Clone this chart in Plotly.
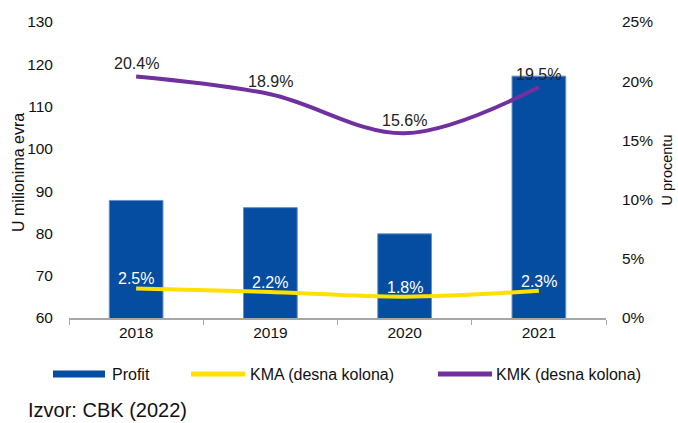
import plotly.graph_objects as go

years = ["2018", "2019", "2020", "2021"]
profit = [87.8, 86.1, 79.9, 117.2]
kma = [2.5, 2.2, 1.8, 2.3]
kmk = [20.4, 18.9, 15.6, 19.5]

FONT = "Liberation Sans, Arial, sans-serif"
BLUE = "#054DA1"
YELLOW = "#FFE000"
PURPLE = "#7030A0"

fig = go.Figure()
fig.add_trace(go.Bar(x=years, y=profit, name="Profit", marker_color=BLUE,
                     marker_line=dict(color="#6b8fc4", width=1), width=0.4))
fig.add_trace(go.Scatter(x=years, y=kma, name="KMA (desna kolona)", yaxis="y2",
                         mode="lines", line=dict(color=YELLOW, width=4, shape="spline")))
fig.add_trace(go.Scatter(x=years, y=kmk, name="KMK (desna kolona)", yaxis="y2",
                         mode="lines", line=dict(color=PURPLE, width=4, shape="spline")))

# data labels (x given as category index)
for i, v in enumerate(kma):
  fig.add_annotation(x=i, y=v, xref="x", yref="y2", text=f"{v}%", showarrow=False,
                     yanchor="bottom", yshift=-1, font=dict(color="white", size=16))
for i, v in enumerate(kmk):
  fig.add_annotation(x=i, y=v, xref="x", yref="y2", text=f"{v}%", showarrow=False,
                     yanchor="bottom", yshift=2, font=dict(color="#222222", size=16))

fig.update_layout(
  width=678, height=423,
  margin=dict(l=69, r=72, t=22, b=105, autoexpand=False),
  plot_bgcolor="white", paper_bgcolor="white",
  font=dict(family=FONT, size=15.5, color="#111111"),
  showlegend=False,
  xaxis=dict(type="category", range=[-0.5, 3.5], showline=True, linecolor="#A6A6A6",
             linewidth=1.5, ticks="outside", tickson="boundaries", ticklen=5,
             tickcolor="#A6A6A6", showgrid=False, automargin=False,
             tickfont=dict(size=15.5)),
  yaxis=dict(range=[60, 130], dtick=10, showgrid=False, zeroline=False, automargin=False,
             ticklabelstandoff=15, tickfont=dict(size=15.5)),
  yaxis2=dict(range=[0, 25], overlaying="y", side="right", automargin=False,
              tickvals=[0, 5, 10, 15, 20, 25],
              ticktext=["0%", "5%", "10%", "15%", "20%", "25%"],
              showgrid=False, zeroline=False, ticklabelstandoff=15,
              tickfont=dict(size=15.5),
              title=dict(text="U procentu", standoff=9, font=dict(size=14.5))),
  bargap=0.6,
)

# left axis title placed as annotation (sits tight against the tick labels)
fig.add_annotation(text="U milionima evra", xref="paper", yref="paper", x=-0.0931, y=0.49,
                   textangle=-90, xanchor="center", yanchor="middle", showarrow=False,
                   font=dict(size=16))

# legend drawn by hand to mimic the wide keys
ly = -0.1892
fig.add_shape(type="rect", xref="paper", yref="paper", x0=-0.0298, x1=0.067,
              y0=ly - 0.0118, y1=ly + 0.0118, fillcolor=BLUE, line_width=0)
fig.add_shape(type="line", xref="paper", yref="paper", x0=0.2272, x1=0.3277,
              y0=ly, y1=ly, line=dict(color=YELLOW, width=5))
fig.add_shape(type="line", xref="paper", yref="paper", x0=0.6872, x1=0.7877,
              y0=ly, y1=ly, line=dict(color=PURPLE, width=5))
for x, t in [(0.0764, "Profit"), (0.3333, "KMA (desna kolona)"), (0.7914, "KMK (desna kolona)")]:
  fig.add_annotation(text=t, xref="paper", yref="paper", x=x, y=ly, xanchor="left",
                     yanchor="middle", showarrow=False, font=dict(size=16))

fig.add_annotation(text="Izvor: CBK (2022)", xref="paper", yref="paper",
                   x=-0.0801, y=-0.3108, xanchor="left", yanchor="middle",
                   showarrow=False, font=dict(size=20))

fig.write_html("out.html", config={"displayModeBar": False},
               post_script="document.body.style.margin='0';")
